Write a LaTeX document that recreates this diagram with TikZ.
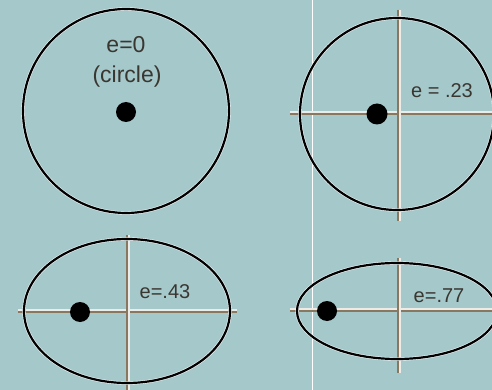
\documentclass[tikz,border=0pt]{standalone}
\usepackage{fontspec}
\setmainfont{Liberation Sans}
\definecolor{bgteal}{RGB}{165,200,203}
\definecolor{axisbrown}{RGB}{136,120,96}
\definecolor{labelgray}{RGB}{58,54,48}
\begin{document}
\begin{tikzpicture}[x=1pt,y=-1pt,
  orbit/.style={draw=black,line width=2.2pt},
  orbithalo/.style={draw=white!80!bgteal,line width=3.4pt},
  axisline/.style={draw=axisbrown,line width=2.6pt},
  axishalo/.style={draw=white!85!axisbrown,line width=2pt},
  focusdot/.style={fill=black},
  lbl/.style={text=labelgray,inner sep=0pt,font=\fontsize{20}{22}\selectfont},
  biglbl/.style={text=labelgray,inner sep=0pt,font=\fontsize{23}{26}\selectfont}]
\fill[bgteal] (0,0) rectangle (492,390);
\useasboundingbox (0,0) rectangle (492,390);
\clip (0,0) rectangle (492,390);
\draw[white,line width=1pt] (312,0) -- (312,390);
% --- panel 1: circle
\draw[orbithalo] (126,111) ellipse [x radius=103,y radius=102];
\draw[orbit] (126,111) ellipse [x radius=103,y radius=102];
\fill[focusdot] (126,112) circle [radius=10];
\node[biglbl] (l0) at (126,45) {e=0};
\node[biglbl] (l0b) at (127,77) {(circle)};
% --- panel 2: e=.23
\coordinate (h2a) at (290,114); \coordinate (h2b) at (492,114);
\coordinate (v2a) at (398,10); \coordinate (v2b) at (398,221);
\draw[axishalo] ([yshift=1.8]h2a) -- ([yshift=1.8]h2b);
\draw[axisline] (h2a) -- (h2b);
\draw[axishalo] ([xshift=1.8]v2a) -- ([xshift=1.8]v2b);
\draw[axisline] (v2a) -- (v2b);
\draw[orbithalo] (397,114) ellipse [x radius=97,y radius=96];
\draw[orbit] (397,114) ellipse [x radius=97,y radius=96];
\fill[focusdot] (377,114) circle [radius=10.5];
\node[lbl] (l23) at (442,91) {e = .23};
% --- panel 3: e=.43
\coordinate (h3a) at (18,312); \coordinate (h3b) at (237,312);
\coordinate (v3a) at (127,235); \coordinate (v3b) at (127,390);
\draw[axishalo] ([yshift=1.8]h3a) -- ([yshift=1.8]h3b);
\draw[axisline] (h3a) -- (h3b);
\draw[axishalo] ([xshift=1.8]v3a) -- ([xshift=1.8]v3b);
\draw[axisline] (v3a) -- (v3b);
\draw[orbithalo] (127,311) ellipse [x radius=103,y radius=72];
\draw[orbit] (127,311) ellipse [x radius=103,y radius=72];
\fill[focusdot] (80,312) circle [radius=10];
\node[lbl] (l43) at (165,292) {e=.43};
% --- panel 4: e=.77
\coordinate (h4a) at (290,311); \coordinate (h4b) at (492,311);
\coordinate (v4a) at (398,258); \coordinate (v4b) at (398,373);
\draw[axishalo] ([yshift=1.8]h4a) -- ([yshift=1.8]h4b);
\draw[axisline] (h4a) -- (h4b);
\draw[axishalo] ([xshift=1.8]v4a) -- ([xshift=1.8]v4b);
\draw[axisline] (v4a) -- (v4b);
\draw[orbithalo] (397,311) ellipse [x radius=100,y radius=48];
\draw[orbit] (397,311) ellipse [x radius=100,y radius=48];
\fill[focusdot] (327,311) circle [radius=10];
\node[lbl] (l77) at (439,296) {e=.77};
\end{tikzpicture}
\end{document}
